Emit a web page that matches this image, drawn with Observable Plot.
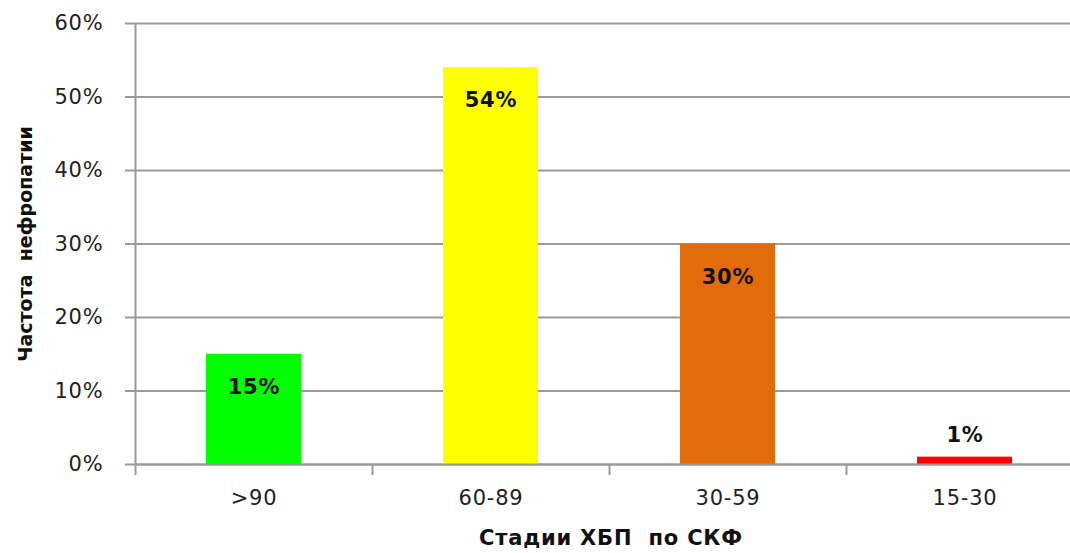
<!DOCTYPE html>
<html>
<head>
<meta charset="utf-8">
<script src="https://cdn.jsdelivr.net/npm/d3@7"></script>
<script src="https://cdn.jsdelivr.net/npm/@observablehq/plot@0.6"></script>
<style>
  html, body { margin: 0; padding: 0; background: #fff; }
  svg { display: block; }
  svg text { letter-spacing: 0.8px; }
</style>
</head>
<body>
<div id="chart"></div>
<script>
const categories = [">90", "60-89", "30-59", "15-30"];
const values = [15, 54, 30, 1];
const colors = ["#00ff00", "#ffff00", "#e36c0a", "#ff0000"];
const yTicks = [0, 10, 20, 30, 40, 50, 60];
const xTitle = "Стадии ХБП  по СКФ";
const yTitle = "Частота  нефропатии";

const data = categories.map((c, i) => ({ stage: c, value: values[i], color: colors[i] }));

const W = 1070, H = 553;
const mLeft = 135, xRight = 1083, mTop = 23, mBottom = 89;
const bw = (xRight - mLeft) / categories.length;
const font = "'DejaVu Sans', Verdana, sans-serif";
const gridColor = "#9a9a9a";
const fs = 21;

const chart = Plot.plot({
  width: W,
  height: H,
  marginLeft: mLeft,
  marginRight: 0,
  marginTop: mTop,
  marginBottom: mBottom,
  style: { fontFamily: font, fontSize: fs + "px", color: "#222", background: "#fff", overflow: "visible" },
  x: { domain: categories, range: [mLeft, xRight], paddingInner: 0.6, paddingOuter: 0.3, label: null },
  y: { domain: [0, 60], label: null },
  marks: [
    Plot.gridY(yTicks, { stroke: gridColor, strokeOpacity: 1, strokeWidth: 2 }),
    Plot.axisY(yTicks, {
      tickFormat: d => d + "%", tickSize: 10, tickPadding: 22, stroke: gridColor,
      strokeWidth: 2, fontSize: fs, fill: "#222", label: null
    }),
    Plot.barY(data, { x: "stage", y: "value", fill: "color" }),
    Plot.ruleX(categories.slice(0, 1), { x: d => d, dx: -bw / 2, y1: 60, y2: 0, insetBottom: -11, stroke: gridColor, strokeWidth: 2 }),
    Plot.ruleX(categories.slice(1), { x: d => d, dx: -bw / 2, y1: 0, y2: 0, insetBottom: -11, stroke: gridColor, strokeWidth: 2 }),
    Plot.ruleY([0], { stroke: gridColor, strokeWidth: 2 }),
    Plot.axisX({ tickSize: 0, tickPadding: 26, fontSize: fs, fill: "#222", label: null }),
    Plot.text(data.filter(d => d.value > 5), {
      x: "stage", y: "value", text: d => d.value + "%",
      dy: 33, fontWeight: "bold", fontSize: fs, fill: "#111"
    }),
    Plot.text(data.filter(d => d.value <= 5), {
      x: "stage", y: "value", text: d => d.value + "%",
      dy: -22, fontWeight: "bold", fontSize: fs, fill: "#111"
    }),
    Plot.text([xTitle], {
      frameAnchor: "bottom", dx: 8, dy: 80, fontWeight: "bold", fontSize: fs, fill: "#111"
    }),
    Plot.text([yTitle], {
      frameAnchor: "left", textAnchor: "middle", dx: -110, rotate: -90, fontWeight: "bold", fontSize: 19, fill: "#111"
    })
  ]
});
d3.select(chart).selectAll("text").filter(function () { return this.textContent === yTitle; })
  .style("letter-spacing", "0px");
document.getElementById("chart").appendChild(chart);
</script>
</body>
</html>
